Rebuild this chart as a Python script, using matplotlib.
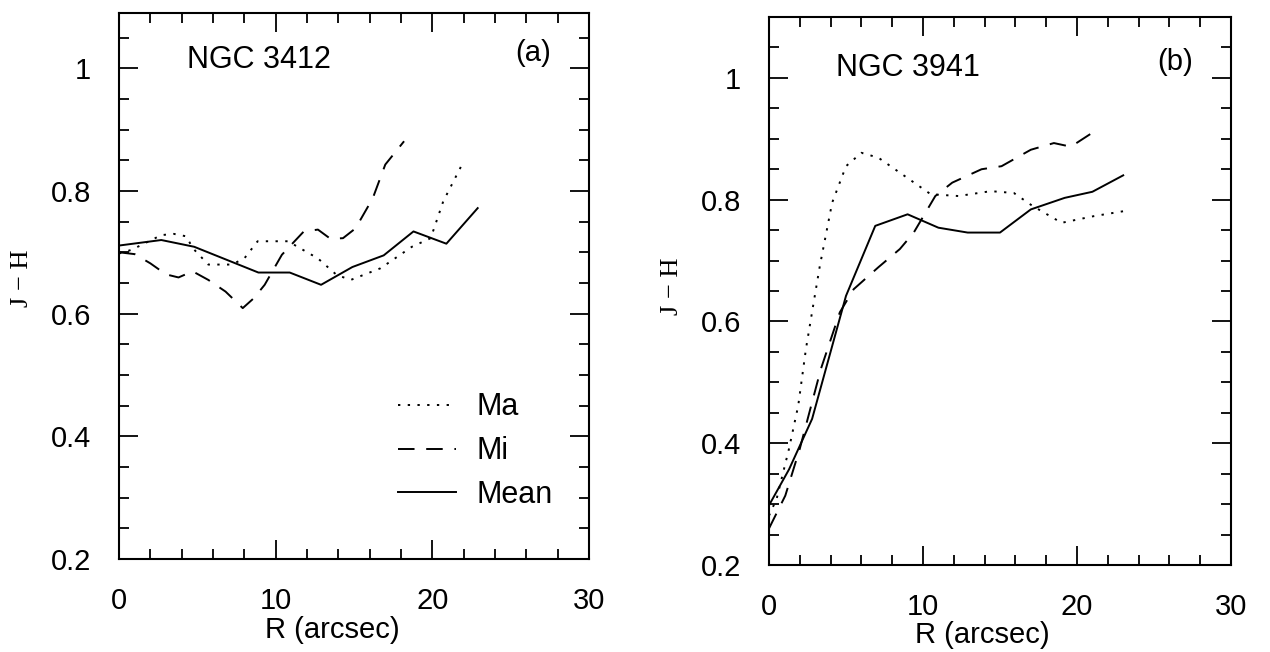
import matplotlib
matplotlib.use("Agg")
import matplotlib.pyplot as plt
from matplotlib.ticker import MultipleLocator
from matplotlib.font_manager import FontProperties

plt.rcParams['font.family'] = ['Liberation Sans', 'DejaVu Sans']

# --- NGC 3412 (a) ---
mean_a_r = [0, 2.7, 4.8, 8.9, 10.9, 12.9, 14.9, 16.9, 18.8, 20.9, 22.9]
mean_a = [0.711, 0.720, 0.709, 0.667, 0.667, 0.647, 0.676, 0.695, 0.734, 0.714, 0.772]

mi_a_r = [0, 1, 2, 3, 3.8, 4.7, 5.7, 6.8, 7.9, 8.6, 9.3, 10.4, 11.8, 12.7, 13.5, 14.3, 15.1, 16.2, 17.0, 18.2]
mi_a = [0.700, 0.697, 0.682, 0.664, 0.659, 0.669, 0.655, 0.636, 0.609, 0.625, 0.647, 0.696, 0.734, 0.737, 0.722, 0.723, 0.739, 0.788, 0.843, 0.881]

ma_a_r = [0, 0.8, 2.7, 3.5, 4.3, 4.7, 5.7, 7.2, 8.0, 8.85, 10.8, 11.4, 12.7, 13.9, 14.8, 16.7, 18.7, 19.9, 20.7, 21.9]
ma_a = [0.698, 0.704, 0.728, 0.730, 0.726, 0.707, 0.680, 0.680, 0.690, 0.718, 0.718, 0.709, 0.690, 0.663, 0.655, 0.674, 0.709, 0.723, 0.783, 0.843]

# --- NGC 3941 (b) ---
mean_b_r = [0, 1.3, 2.8, 5.0, 6.9, 9.0, 11.0, 12.9, 15.0, 17.0, 19.2, 21.0, 23.0]
mean_b = [0.298, 0.357, 0.440, 0.642, 0.757, 0.776, 0.754, 0.746, 0.746, 0.784, 0.803, 0.813, 0.840]

mi_b_r = [0, 1.06, 2.0, 3.37, 4.6, 5.5, 7.1, 8.5, 9.4, 10.8, 11.9, 13.8, 15.1, 17.0, 18.5, 19.6, 21.0]
mi_b = [0.260, 0.314, 0.391, 0.522, 0.615, 0.653, 0.689, 0.719, 0.746, 0.806, 0.828, 0.850, 0.855, 0.882, 0.893, 0.887, 0.910]

ma_b_r = [0, 0.5, 1.3, 1.9, 2.4, 2.9, 3.3, 4.1, 5.0, 6.0, 7.1, 8.8, 10.5, 12.3, 14.4, 15.9, 17.1, 19.0, 21.1, 23.0]
ma_b = [0.281, 0.309, 0.391, 0.462, 0.555, 0.631, 0.691, 0.795, 0.855, 0.877, 0.869, 0.839, 0.809, 0.806, 0.814, 0.811, 0.790, 0.762, 0.773, 0.781]

yticks = [0.2, 0.4, 0.6, 0.8, 1.0]
ytick_labels = ['0.2', '0.4', '0.6', '0.8', '1']
xticks = [0, 10, 20, 30]

DOT = (0, (1.2, 3.8))
DASH = (0, (8.5, 6))
LW = 1.4

serif = FontProperties(family=['Liberation Serif', 'DejaVu Serif'], size=19)

fig = plt.figure(figsize=(12.7, 6.52), dpi=100)
ax1 = fig.add_axes([0.0937, 0.1426, 0.370, 0.8374])
ax2 = fig.add_axes([0.6055, 0.1334, 0.3638, 0.8405])


def style(ax, ytop):
    ax.set_xlim(0, 30)
    ax.set_ylim(0.2, ytop)
    ax.set_xticks(xticks)
    ax.set_yticks(yticks)
    ax.set_yticklabels(ytick_labels)
    ax.xaxis.set_minor_locator(MultipleLocator(2))
    ax.yaxis.set_minor_locator(MultipleLocator(0.05))
    ax.tick_params(which='both', direction='in', top=True, right=True,
                   width=1.3, labelsize=21)
    ax.tick_params(which='major', length=14, pad=20)
    ax.tick_params(which='minor', length=7.5)
    for s in ax.spines.values():
        s.set_linewidth(1.5)
    ax.set_xlabel('R (arcsec)', fontsize=21)
    ax.set_ylabel('J − H', fontproperties=serif)


# panel (a)
ax1.plot(ma_a_r, ma_a, color='k', lw=LW, linestyle=DOT, label='Ma')
ax1.plot(mi_a_r, mi_a, color='k', lw=LW, linestyle=DASH, label='Mi')
ax1.plot(mean_a_r, mean_a, color='k', lw=LW, linestyle='-', label='Mean')
style(ax1, 1.09)
ax1.xaxis.set_label_coords(0.455, -0.104)
ax1.yaxis.set_label_coords(-0.183, 0.515)
ax1.text(0.145, 0.914, 'NGC 3412', transform=ax1.transAxes, fontsize=22, va='center')
ax1.text(0.843, 0.927, '(a)', transform=ax1.transAxes, fontsize=21, va='center')
ax1.legend(loc='upper left', bbox_to_anchor=(0.594, 0.305), frameon=False,
           fontsize=22, handlelength=1.9, handletextpad=0.65,
           labelspacing=0.45, borderpad=0, borderaxespad=0)

# panel (b)
ax2.plot(ma_b_r, ma_b, color='k', lw=LW, linestyle=DOT)
ax2.plot(mi_b_r, mi_b, color='k', lw=LW, linestyle=DASH)
ax2.plot(mean_b_r, mean_b, color='k', lw=LW, linestyle='-')
style(ax2, 1.1)
ax2.xaxis.set_label_coords(0.461, -0.102)
ax2.yaxis.set_label_coords(-0.186, 0.508)
ax2.text(0.145, 0.907, 'NGC 3941', transform=ax2.transAxes, fontsize=22, va='center')
ax2.text(0.84, 0.918, '(b)', transform=ax2.transAxes, fontsize=21, va='center')

fig.savefig('out.png', dpi=100)
